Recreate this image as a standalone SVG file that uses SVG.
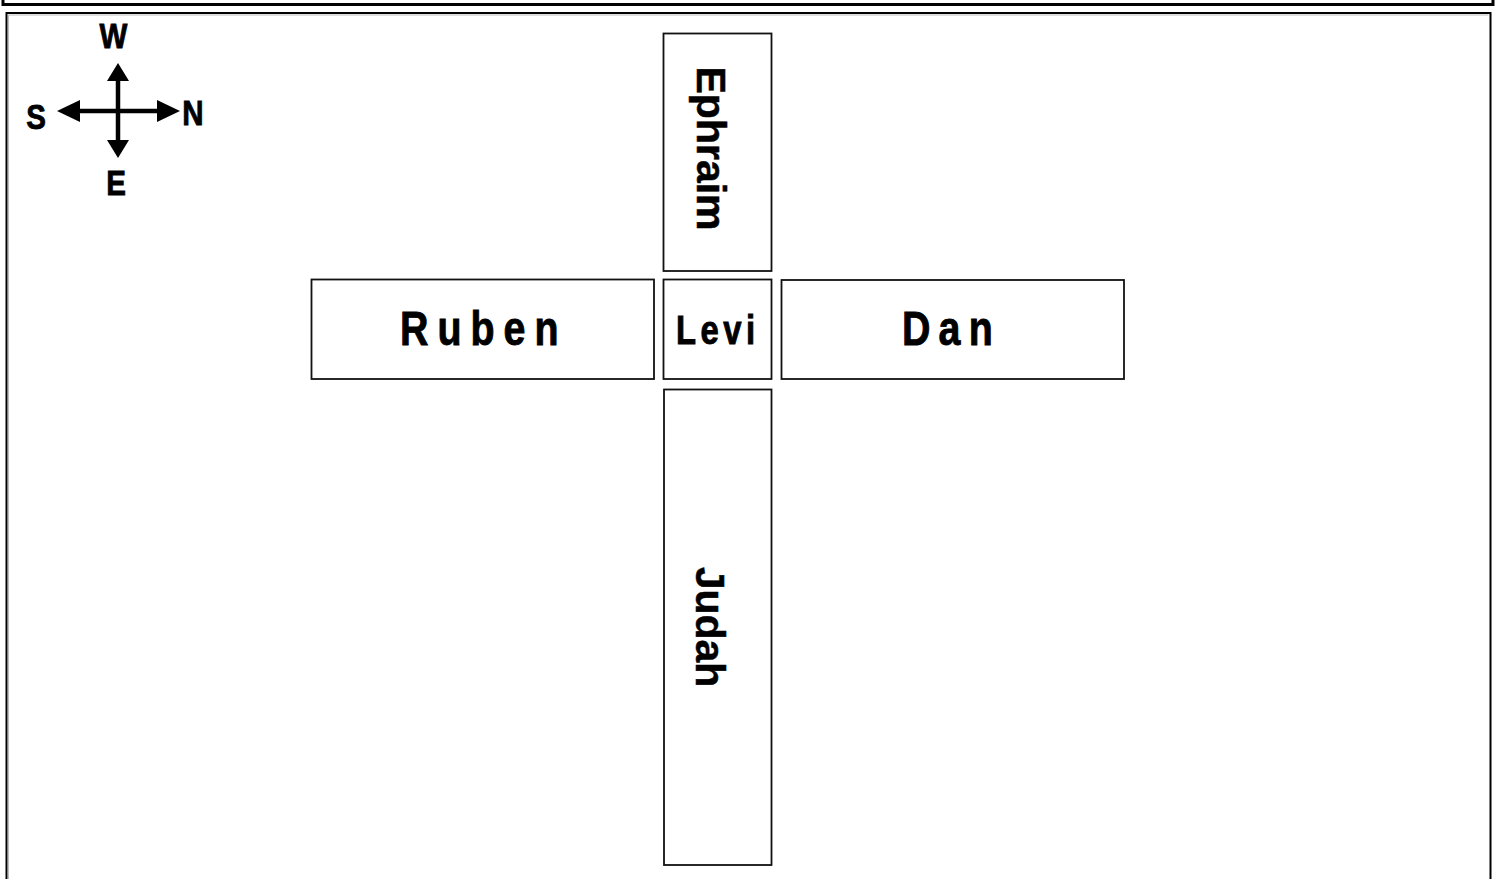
<svg xmlns="http://www.w3.org/2000/svg" width="1496" height="879" viewBox="0 0 1496 879">
<style>
.box{fill:#fff;stroke:#111;stroke-width:1.8}
.lbl{font-family:"Liberation Sans",Arial,sans-serif;font-weight:bold;fill:#000}
.nar{stroke:#000;stroke-width:0.9}
.cmp{stroke:#000;stroke-width:4.5;fill:none}
</style>
<rect width="1496" height="879" fill="#fff"/>
<g id="frame">
<path d="M3,0 V4.5 H1493 V0" fill="none" stroke="#000" stroke-width="3"/>
<rect x="6.5" y="13" width="1484" height="880" fill="none" stroke="#000" stroke-width="2"/>
<path d="M8.5,890 V15 H1488.5" fill="none" stroke="#bbb" stroke-width="1"/>
</g>
<g id="compass">
<line class="cmp" x1="118" y1="78" x2="118" y2="143"/>
<line class="cmp" x1="77" y1="111" x2="160" y2="111"/>
<polygon points="118,63 107,81 129,81" fill="#000"/>
<polygon points="118,158 107,140 129,140" fill="#000"/>
<polygon points="57,111 80,100 80,122" fill="#000"/>
<polygon points="180,111 157,100 157,122" fill="#000"/>
<text class="lbl nar" font-size="36" text-anchor="middle" transform="translate(113.5,48) scale(0.82,1)">W</text>
<text class="lbl nar" font-size="36" text-anchor="middle" transform="translate(36,129) scale(0.82,1)">S</text>
<text class="lbl nar" font-size="36" text-anchor="middle" transform="translate(193,125) scale(0.82,1)">N</text>
<text class="lbl nar" font-size="36" text-anchor="middle" transform="translate(116,195) scale(0.82,1)">E</text>
</g>
<g id="connectors"></g>
<g id="ephraim">
<rect class="box" x="663.5" y="33.5" width="108" height="237.5"/>
<text class="lbl" font-size="41" text-anchor="middle" stroke="#000" stroke-width="0.5" transform="translate(697,148.5) rotate(90)">Ephraim</text>
</g>
<g id="ruben">
<rect class="box" x="311.5" y="279.5" width="342.5" height="99.5"/>
<text class="lbl nar" font-size="48" letter-spacing="11" transform="translate(400,345) scale(0.82,1)">Ruben</text>
</g>
<g id="levi">
<rect class="box" x="663.5" y="279.5" width="108" height="99.5"/>
<text class="lbl nar" font-size="40" letter-spacing="5.5" transform="translate(676,344) scale(0.82,1)">Levi</text>
</g>
<g id="dan">
<rect class="box" x="781.5" y="280" width="342.5" height="99"/>
<text class="lbl nar" font-size="48" letter-spacing="10" transform="translate(902,345) scale(0.82,1)">Dan</text>
</g>
<g id="judah">
<rect class="box" x="664" y="389.5" width="107.5" height="475.5"/>
<text class="lbl" font-size="41" text-anchor="middle" stroke="#000" stroke-width="0.5" transform="translate(696,627) rotate(90)">Judah</text>
</g>
</svg>
